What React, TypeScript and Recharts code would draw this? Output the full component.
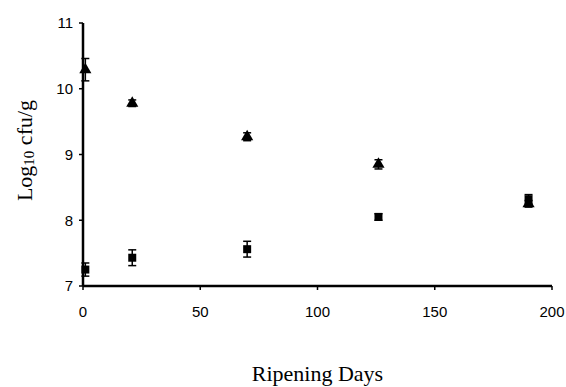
import { ErrorBar, Label, Scatter, ScatterChart, XAxis, YAxis, ZAxis } from "recharts";

const days = [1, 21, 70, 126, 190];
const triangleMeans = [10.29, 9.78, 9.27, 8.85, 8.25];
const triangleErrors = [0.17, 0.05, 0.06, 0.07, 0.05];
const squareMeans = [7.25, 7.43, 7.56, 8.05, 8.32];
const squareErrors = [0.1, 0.12, 0.12, 0.05, 0.07];
const xTicks = [0, 50, 100, 150, 200];
const yTicks = [7, 8, 9, 10, 11];

const triangleData = days.map((d, i) => ({ day: d, value: triangleMeans[i], err: triangleErrors[i] }));
const squareData = days.map((d, i) => ({ day: d, value: squareMeans[i], err: squareErrors[i] }));

const tickStyle = { fontFamily: "'Liberation Sans', Arial, sans-serif", fontSize: 15, fill: "#000" };
const serif = "'Liberation Serif', 'Times New Roman', serif";

function YLabel(props: any) {
  const { x, y, height } = props.viewBox;
  const cx = x + 24;
  const cy = y + height / 2 - 4;
  return (
    <text
      x={cx}
      y={cy}
      transform={`rotate(-90, ${cx}, ${cy})`}
      textAnchor="middle"
      dominantBaseline="central"
      fontFamily={serif}
      fontSize={22}
      fill="#000"
    >
      <tspan>Log</tspan>
      <tspan fontSize={15} dy={5}>10</tspan>
      <tspan dy={-5}> cfu/g</tspan>
    </text>
  );
}

function XLabel(props: any) {
  const { x, y, width } = props.viewBox;
  return (
    <text x={x + width / 2} y={y + 95} textAnchor="middle" fontFamily={serif} fontSize={22} fill="#000">
      Ripening Days
    </text>
  );
}

export default function App() {
  return (
    <div style={{ position: "absolute", left: 0, top: 0, background: "#fff" }}>
      <ScatterChart width={566} height={387} margin={{ top: 23, right: 14, left: 0, bottom: 0 }}>
        <XAxis
          type="number"
          dataKey="day"
          domain={[0, 200]}
          ticks={xTicks}
          height={101}
          tick={tickStyle}
          tickSize={4}
          tickMargin={16}
          axisLine={{ stroke: "#000", strokeWidth: 2.5 }}
          tickLine={{ stroke: "#000", strokeWidth: 1.5 }}
        >
          <Label content={XLabel} />
        </XAxis>
        <YAxis
          type="number"
          dataKey="value"
          domain={[7, 11]}
          ticks={yTicks}
          width={83}
          tick={tickStyle}
          tickSize={4}
          tickMargin={6}
          axisLine={{ stroke: "#000", strokeWidth: 2.5 }}
          tickLine={{ stroke: "#000", strokeWidth: 1.5 }}
        >
          <Label content={YLabel} />
        </YAxis>
        <ZAxis range={[120, 120]} />
        <Scatter data={triangleData} shape="triangle" fill="#000" isAnimationActive={false}>
          <ErrorBar dataKey="err" direction="y" width={4} stroke="#000" strokeWidth={1.5} />
        </Scatter>
        <Scatter data={squareData} shape="square" fill="#000" isAnimationActive={false}>
          <ErrorBar dataKey="err" direction="y" width={4} stroke="#000" strokeWidth={1.5} />
        </Scatter>
      </ScatterChart>
    </div>
  );
}
